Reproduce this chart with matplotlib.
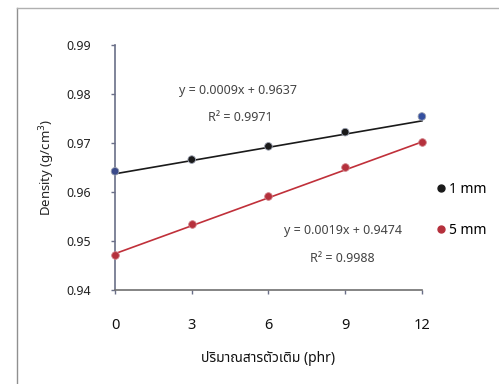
import matplotlib
matplotlib.use('Agg')
import matplotlib.pyplot as plt
from matplotlib.lines import Line2D

# data
phr = [0, 3, 6, 9, 12]
density_1mm = [0.9642, 0.9666, 0.9693, 0.9722, 0.9754]
density_5mm = [0.9471, 0.9534, 0.9591, 0.9651, 0.9701]
fit_1mm = (0.0009, 0.9637)
fit_5mm = (0.0019, 0.9474)
eq_1mm = ['y = 0.0009x + 0.9637', 'R² = 0.9971']
eq_5mm = ['y = 0.0019x + 0.9474', 'R² = 0.9988']
x_ticks = [0, 3, 6, 9, 12]
y_ticks = [0.94, 0.95, 0.96, 0.97, 0.98, 0.99]

plt.rcParams['font.family'] = ['Noto Sans', 'Noto Sans Thai', 'DejaVu Sans']

fig = plt.figure(figsize=(4.99, 3.84), dpi=100)
ax = fig.add_axes([0.2305, 0.245, 0.615, 0.638])

# trendlines
xs = [phr[0], phr[-1]]
ax.plot(xs, [fit_1mm[0] * x + fit_1mm[1] for x in xs], c='#1a1a1a', lw=1.2, clip_on=False)
ax.plot(xs, [fit_5mm[0] * x + fit_5mm[1] for x in xs], c='#c0303a', lw=1.2, clip_on=False)

# markers
face_1mm = ['#3a4a8a', '#1a1a1a', '#1a1a1a', '#1a1a1a', '#3550a0']
ax.scatter(phr, density_1mm, c=face_1mm, s=30, zorder=3, clip_on=False,
           edgecolors='#9aa0b0', linewidths=0.6)
ax.scatter(phr, density_5mm, c='#b5303c', s=30, zorder=3, clip_on=False,
           edgecolors='#d08088', linewidths=0.6)

ax.set_xlim(0, 12)
ax.set_ylim(0.94, 0.99)
ax.set_xticks(x_ticks)
ax.set_yticks(y_ticks)
ax.set_yticklabels(['%.2f' % v for v in y_ticks])
ax.tick_params(axis='y', length=3, width=1, color='#6a6f88', pad=14, labelsize=9, labelcolor='#222222')
ax.tick_params(axis='x', length=3, width=1, color='#6a6f88', pad=17, labelsize=10.5, labelcolor='#111111')

for side in ['top', 'right']:
    ax.spines[side].set_visible(False)
ax.spines['left'].set_color('#6a6f88')
ax.spines['bottom'].set_color('#707070')
ax.spines['left'].set_linewidth(1.2)
ax.spines['bottom'].set_linewidth(1.2)

ax.set_ylabel('Density (g/cm$^3$)', fontsize=9.5, color='#222222', labelpad=7)
ax.set_xlabel('ปริมาณสารตัวเติม (phr)', fontsize=10, color='#111111', labelpad=13,
              fontweight='bold')

ax.text(4.8, 0.9808, eq_1mm[0], ha='center', va='center', fontsize=9, color='#444444')
ax.text(4.9, 0.9751, eq_1mm[1], ha='center', va='center', fontsize=9, color='#444444')
ax.text(8.9, 0.9522, eq_5mm[0], ha='center', va='center', fontsize=9, color='#444444')
ax.text(8.9, 0.9465, eq_5mm[1], ha='center', va='center', fontsize=9, color='#444444')

handles = [Line2D([], [], ls='none', marker='o', ms=5, mfc='#1a1a1a', mec='#1a1a1a'),
           Line2D([], [], ls='none', marker='o', ms=5, mfc='#b5303c', mec='#b5303c')]
fig.legend(handles, ['1 mm', '5 mm'], loc='upper left', bbox_to_anchor=(0.855, 0.545),
           frameon=False, fontsize=10, handletextpad=0.1, labelspacing=1.9,
           handlelength=1.0, borderpad=0)

# outer frame of the original chart area
fig.add_artist(Line2D([0.034, 0.034], [0.0, 0.978], color='#909090', lw=1))
fig.add_artist(Line2D([0.034, 1.0], [0.978, 0.978], color='#b0b0b0', lw=1))

fig.savefig('out.png', dpi=100)
